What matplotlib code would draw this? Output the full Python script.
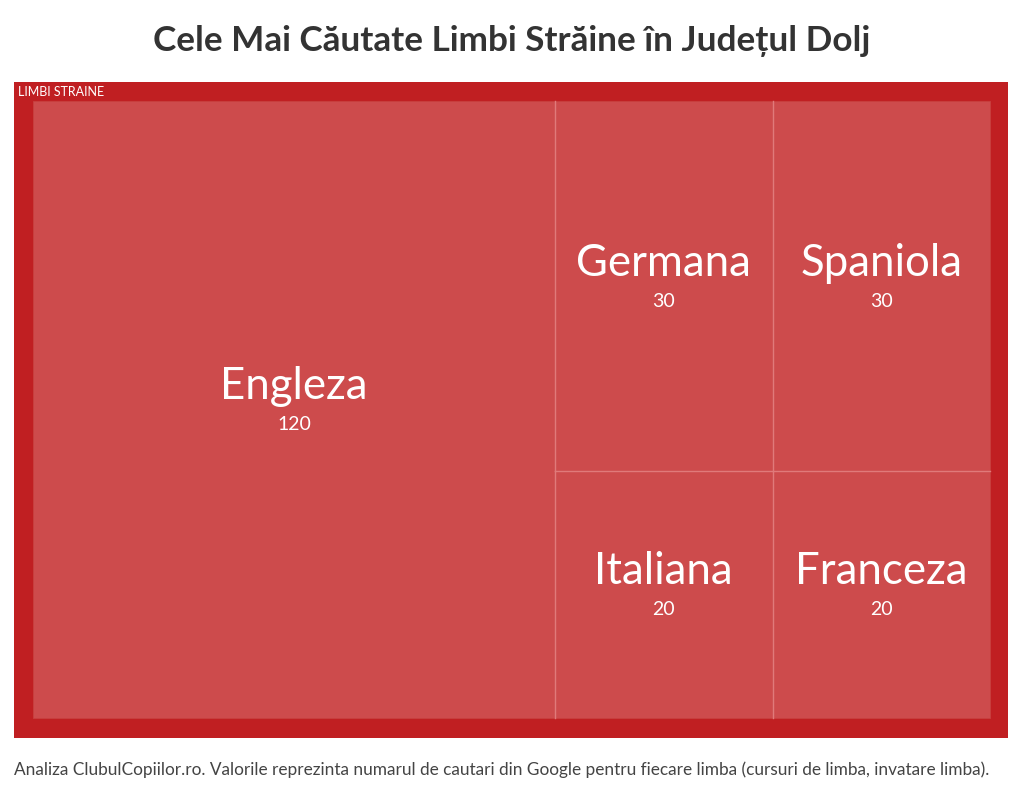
import matplotlib
matplotlib.use("Agg")
import matplotlib.pyplot as plt
from matplotlib.patches import Rectangle

# ---- data ----
categories = ["Engleza", "Germana", "Spaniola", "Italiana", "Franceza"]
values = [120, 30, 30, 20, 20]
group_label = "LIMBI STRAINE"
title = "Cele Mai Căutate Limbi Străine în Județul Dolj"
footnote = ("Analiza ClubulCopiilor.ro. Valorile reprezinta numarul de cautari din Google "
            "pentru fiecare limba (cursuri de limba, invatare limba).")

FONT = "Lato"
W_PX, H_PX = 1024, 794


def worst(row, side):
    s = sum(row)
    mx, mn = max(row), min(row)
    return max(side * side * mx / (s * s), (s * s) / (side * side * mn))


def layout_row(row, x, y, w, h):
    s = sum(row)
    rects = []
    if w >= h:  # column on the left
        cw = s / h
        cy = y
        for a in row:
            rh = a / cw
            rects.append((x, cy, cw, rh))
            cy += rh
        return rects, (x + cw, y, w - cw, h)
    else:  # row on top
        rh = s / w
        cx = x
        for a in row:
            rw = a / rh
            rects.append((cx, y, rw, rh))
            cx += rw
        return rects, (x, y + rh, w, h - rh)


def squarify(vals, x, y, w, h):
    total = sum(vals)
    areas = [v * w * h / total for v in vals]
    rects = []
    i = 0
    while i < len(areas):
        side = min(w, h)
        row = [areas[i]]
        i += 1
        while i < len(areas) and worst(row + [areas[i]], side) <= worst(row, side):
            row.append(areas[i])
            i += 1
        r, (x, y, w, h) = layout_row(row, x, y, w, h)
        rects += r
    return rects


fig = plt.figure(figsize=(W_PX / 100, H_PX / 100), dpi=100)
fig.patch.set_facecolor("#ffffff")

# outer frame in pixels: x 14..1008, y 82..738 (top-origin)
ox0, ox1, oy0, oy1 = 14, 1008, 82, 738
ax = fig.add_axes([ox0 / W_PX, 1 - oy1 / H_PX, (ox1 - ox0) / W_PX, (oy1 - oy0) / H_PX])
ax.set_facecolor("#c01f22")
ix0, ix1, iy0, iy1 = 33, 990, 101, 718
ax.set_xlim(ox0, ox1)
ax.set_ylim(oy1, oy0)
for s in ax.spines.values():
    s.set_visible(False)
ax.set_xticks([])
ax.set_yticks([])

rects = squarify(values, ix0, iy0, ix1 - ix0, iy1 - iy0)
eps = 0.5
line_kw = dict(color="#e07a7a", linewidth=1.0, zorder=3)
for (x, y, w, h), name, v in zip(rects, categories, values):
    ax.add_patch(Rectangle((x, y), w, h, facecolor="#cd4b4c", edgecolor="#c8403f",
                           linewidth=0.6, zorder=2))
for (x, y, w, h) in rects:
    if x > ix0 + eps:
        ax.plot([x, x], [y, y + h], **line_kw)
    if y > iy0 + eps:
        ax.plot([x, x + w], [y, y], **line_kw)

for (x, y, w, h), name, v in zip(rects, categories, values):
    cx, cy = x + w / 2, y + h / 2
    ax.text(cx, cy - 23, name, ha="center", va="center", color="white",
            fontsize=31.5, family=FONT, zorder=4)
    ax.text(cx, cy + 15, str(v), ha="center", va="center", color="white",
            fontsize=14, family=FONT, zorder=4)

ax.text(18, 91.5, group_label, ha="left", va="center", color="white",
        fontsize=9, family=FONT)

fig.text(0.5, 1 - 41 / H_PX, title, ha="center", va="center", color="#333333",
         fontsize=25.3, fontweight="bold", family=FONT)
fig.text(14 / W_PX, 1 - 770 / H_PX, footnote, ha="left", va="center", color="#444444",
         fontsize=12.4, family=FONT)

fig.savefig("out.png", dpi=100, facecolor=fig.get_facecolor())
